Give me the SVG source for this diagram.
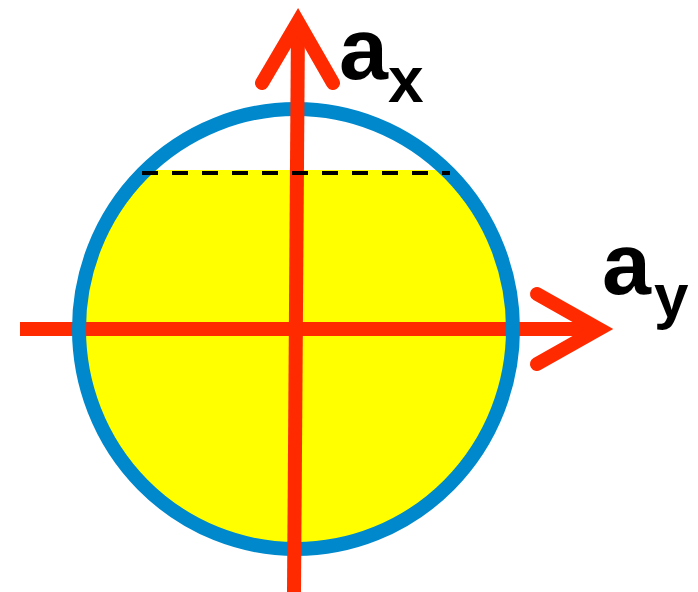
<svg xmlns="http://www.w3.org/2000/svg" width="698" height="592" viewBox="0 0 698 592">
<style>
.axis{stroke:#ff2a00;stroke-width:14;fill:none}
.head{stroke:#ff2a00;stroke-width:14;fill:none;stroke-linecap:round;stroke-linejoin:miter;stroke-miterlimit:6}
.ring{fill:none;stroke:#0088cc;stroke-width:14}
.lbl{font-family:"Liberation Sans",Arial,sans-serif;font-weight:bold;fill:#000}
</style>
<defs>
<clipPath id="below"><rect x="0" y="170" width="698" height="422"/></clipPath>
</defs>
<rect width="698" height="592" fill="#fff"/>
<g id="sphere">
<ellipse cx="296" cy="329" rx="217" ry="220" fill="#ffff00" clip-path="url(#below)"/>
</g>
<g id="connectors">
<line id="axis-y" class="axis" x1="20" y1="329" x2="599" y2="329"/>
<polyline class="head" points="537,294 599,329 537,364"/>
</g>
<g id="circle">
<ellipse class="ring" cx="296" cy="329" rx="217" ry="220"/>
</g>
<g id="connectors-x">
<line id="axis-x" class="axis" x1="294" y1="592" x2="298" y2="22"/>
<polyline class="head" points="262,83 298,22 333,83"/>
</g>
<g id="level">
<line x1="142" y1="173" x2="450" y2="173" stroke="#000" stroke-width="4" stroke-dasharray="16 14"/>
</g>
<g id="label-ax">
<text class="lbl" x="339" y="79" font-size="88">a</text>
<text class="lbl" x="388" y="102" font-size="64">x</text>
</g>
<g id="label-ay">
<text class="lbl" x="602" y="294" font-size="88">a</text>
<text class="lbl" x="654" y="317" font-size="62">y</text>
</g>
</svg>
